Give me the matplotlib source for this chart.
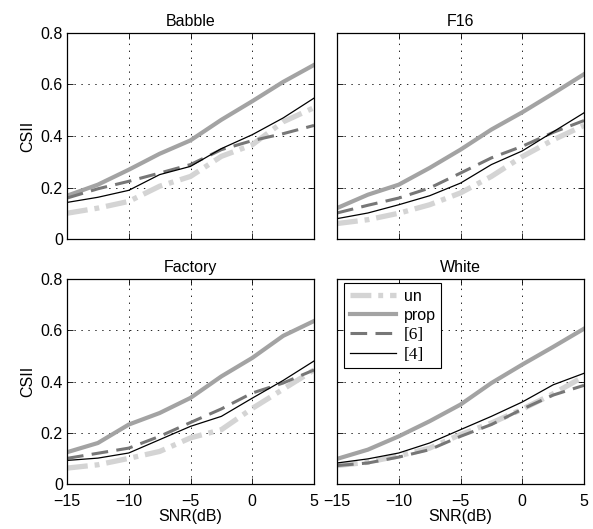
import matplotlib
matplotlib.use('Agg')
import matplotlib.pyplot as plt
import numpy as np

plt.rcParams['font.family'] = ['Liberation Sans', 'DejaVu Sans']
plt.rcParams['lines.scale_dashes'] = False

# SNR points (dB)
snr = [-15, -12.5, -10, -7.5, -5, -2.5, 0, 2.5, 5]

titles = ["Babble", "F16", "Factory", "White"]
methods = ["un", "prop", "[6]", "[4]"]

# CSII per noise type, one list per method
babble_un   = [0.10, 0.12, 0.146, 0.205, 0.243, 0.321, 0.366, 0.455, 0.51]
babble_prop = [0.168, 0.211, 0.269, 0.331, 0.383, 0.463, 0.535, 0.610, 0.676]
babble_6    = [0.159, 0.195, 0.224, 0.256, 0.289, 0.347, 0.382, 0.409, 0.441]
babble_4    = [0.142, 0.162, 0.189, 0.250, 0.282, 0.351, 0.405, 0.470, 0.547]

f16_un   = [0.060, 0.075, 0.100, 0.133, 0.179, 0.243, 0.320, 0.385, 0.441]
f16_prop = [0.120, 0.172, 0.211, 0.276, 0.347, 0.425, 0.492, 0.565, 0.640]
f16_6    = [0.101, 0.131, 0.159, 0.198, 0.256, 0.315, 0.360, 0.414, 0.460]
f16_4    = [0.079, 0.101, 0.133, 0.168, 0.217, 0.289, 0.342, 0.416, 0.490]

factory_un   = [0.062, 0.075, 0.100, 0.127, 0.180, 0.212, 0.295, 0.370, 0.445]
factory_prop = [0.124, 0.160, 0.232, 0.277, 0.336, 0.420, 0.492, 0.578, 0.636]
factory_6    = [0.100, 0.120, 0.140, 0.186, 0.240, 0.293, 0.355, 0.394, 0.445]
factory_4    = [0.092, 0.101, 0.121, 0.173, 0.225, 0.264, 0.335, 0.404, 0.480]

white_un   = [0.072, 0.085, 0.110, 0.140, 0.193, 0.238, 0.292, 0.352, 0.420]
white_prop = [0.098, 0.134, 0.186, 0.245, 0.310, 0.394, 0.466, 0.535, 0.606]
white_6    = [0.072, 0.082, 0.105, 0.134, 0.186, 0.232, 0.292, 0.347, 0.385]
white_4    = [0.082, 0.098, 0.121, 0.160, 0.212, 0.264, 0.320, 0.387, 0.432]

data = [
    [babble_un, babble_prop, babble_6, babble_4],
    [f16_un, f16_prop, f16_6, f16_4],
    [factory_un, factory_prop, factory_6, factory_4],
    [white_un, white_prop, white_6, white_4],
]

styles = [
    dict(color='#d4d4d4', lw=3.8, dashes=(15, 5, 3.5, 5), dash_capstyle='butt'),
    dict(color='#a3a3a3', lw=3.0, ls='-'),
    dict(color='#777777', lw=2.2, dashes=(12, 6), dash_capstyle='butt'),
    dict(color='black', lw=0.9, ls='-'),
]

FS = 11.5

fig = plt.figure(figsize=(5.93, 5.29), dpi=100)
W, H = 593.0, 529.0
boxes = [
    (67, 33, 314, 239), (337, 33, 584, 239),
    (67, 279, 314, 484), (337, 279, 584, 484),
]

for k, (x0, y0, x1, y1) in enumerate(boxes):
    ax = fig.add_axes([x0 / W, 1 - y1 / H, (x1 - x0) / W, (y1 - y0) / H])
    lines = []
    for m in range(4):
        ln, = ax.plot(snr, data[k][m], label=methods[m], **styles[m])
        lines.append(ln)
    ax.set_xlim(-15, 5)
    ax.set_ylim(0, 0.8)
    ax.set_xticks([-15, -10, -5, 0, 5])
    ax.set_yticks([0, 0.2, 0.4, 0.6, 0.8])
    ax.set_yticklabels(['0', '0.2', '0.4', '0.6', '0.8'])
    ax.set_xticklabels(['\u221215', '\u221210', '\u22125', '0', '5'])
    ax.grid(True, color='black', linestyle=(0, (1, 4)), linewidth=0.6)
    ax.tick_params(direction='in', top=True, right=True, length=4,
                   width=0.6, labelsize=FS)
    ax.tick_params(axis='x', pad=7)
    ax.tick_params(axis='y', pad=3)
    for s in ax.spines.values():
        s.set_linewidth(0.9)
    ax.set_title(titles[k], fontsize=FS, pad=5)
    if k % 2 == 0:
        ax.set_ylabel('CSII', fontsize=FS, labelpad=4)
    else:
        ax.set_yticklabels([])
    if k < 2:
        ax.set_xticklabels([])
    else:
        ax.set_xlabel('SNR(dB)', fontsize=FS, labelpad=0)
    if k == 3:
        leg = ax.legend(handles=lines, loc='upper left', fontsize=FS,
                        handlelength=2.9, handletextpad=0.45,
                        borderpad=0.35, labelspacing=0.25,
                        borderaxespad=0.0,
                        fancybox=False, framealpha=1, edgecolor='black',
                        bbox_to_anchor=(0.03, 0.98))
        leg.get_frame().set_linewidth(0.8)
        for t in leg.get_texts()[2:]:
            t.set_family(['Liberation Serif', 'DejaVu Serif'])
            t.set_fontsize(FS + 1)

fig.savefig('out.png', dpi=100)
